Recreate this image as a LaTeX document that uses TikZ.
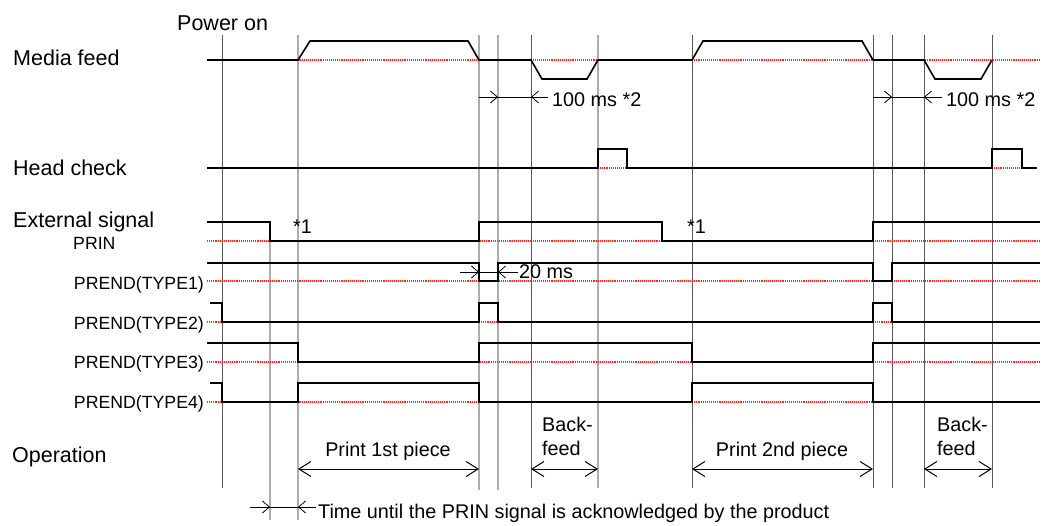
\documentclass[tikz,border=0pt]{standalone}
\usepackage{fontspec}
\setmainfont{Liberation Sans}
\usetikzlibrary{arrows.meta}
\tikzset{
  lbl/.style={inner sep=0pt, font=\fontsize{21.5}{24}\selectfont},
  sml/.style={inner sep=0pt, font=\fontsize{19.8}{24}\selectfont},
  sig/.style={inner sep=0pt, font=\fontsize{17.7}{20}\selectfont},
  sigline/.style={line width=1.6pt, black, line join=miter},
  refline/.style={densely dotted, red!85, line width=1.1pt},
  darkv/.style={black!65, line width=1pt},
  lightv/.style={black!32, line width=2.4pt},
  dimline/.style={line width=0.8pt, black},
  dimtip/.style={line width=0.8pt, -{Straight Barb[length=7pt,width=12pt]}},
  oparrow/.style={line width=1pt, {Straight Barb[length=12pt,width=15pt]}-{Straight Barb[length=12pt,width=15pt]}}
}
\begin{document}
\begin{tikzpicture}[x=1pt,y=-1pt]
\useasboundingbox (0,0) rectangle (1043,525);
% vertical time lines
\draw[darkv]  (222,35) -- (222,488);
\draw[lightv] (270,222) -- (270,520);
\draw[lightv] (298,35) -- (298,520);
\draw[lightv] (479,35) -- (479,490);
\draw[lightv] (498,35) -- (498,490);
\draw[darkv]  (531,35) -- (531,488);
\draw[lightv] (598,35) -- (598,488);
\draw[darkv]  (692,35) -- (692,488);
\draw[darkv]  (873,35) -- (873,488);
\draw[darkv]  (892,35) -- (892,488);
\draw[darkv]  (924,35) -- (924,488);
\draw[darkv]  (992,35) -- (992,488);
% reference (low) levels
\draw[refline] (207,60) -- (1040,60);
\draw[refline] (598,168) -- (627,168);
\draw[refline] (992,168) -- (1022,168);
\draw[refline] (207,241) -- (1040,241);
\draw[refline] (207,281) -- (1040,281);
\draw[refline] (207,322) -- (222,322);
\draw[refline] (479,322) -- (498,322);
\draw[refline] (873,322) -- (892,322);
\draw[refline] (207,362) -- (1040,362);
\draw[refline] (207,402) -- (1040,402);
% waveforms
\draw[sigline] (207,60) -- (298,60) -- (310,41) -- (468,41) -- (479,60) -- (531,60) -- (542,79) -- (587,79) -- (598,60) -- (692,60) -- (703,41) -- (862,41) -- (873,60) -- (924,60) -- (935,79) -- (981,79) -- (992,60);
\draw[sigline] (207,168) -- (598,168) -- (598,149) -- (627,149) -- (627,168) -- (992,168) -- (992,149) -- (1022,149) -- (1022,168) -- (1037,168);
\draw[sigline] (207,222) -- (270,222) -- (270,241) -- (479,241) -- (479,222) -- (662,222) -- (662,241) -- (873,241) -- (873,222) -- (1040,222);
\draw[sigline] (207,263) -- (479,263) -- (479,281) -- (498,281) -- (498,263) -- (873,263) -- (873,281) -- (892,281) -- (892,263) -- (1040,263);
\draw[sigline] (210,303) -- (222,303) -- (222,322) -- (479,322) -- (479,303) -- (498,303) -- (498,322) -- (873,322) -- (873,303) -- (892,303) -- (892,322) -- (1040,322);
\draw[sigline] (207,343) -- (298,343) -- (298,362) -- (479,362) -- (479,343) -- (692,343) -- (692,362) -- (873,362) -- (873,343) -- (1040,343);
\draw[sigline] (210,383) -- (222,383) -- (222,402) -- (298,402) -- (298,383) -- (479,383) -- (479,402) -- (692,402) -- (692,383) -- (873,383) -- (873,402) -- (1040,402);
% labels
\node[lbl, anchor=base west] (pon) at (177,30) {Power on};
\node[lbl, anchor=base west] (mf) at (13,65) {Media feed};
\node[lbl, anchor=base west] (hc) at (13,175) {Head check};
\node[lbl, anchor=base west] (ext) at (13,227) {External signal};
\node[lbl, anchor=base west] (op) at (12,462) {Operation};
\node[sig, anchor=base west] (prin) at (73,249) {PRIN};
\node[sig, anchor=base east] (t1) at (204,289) {PREND(TYPE1)};
\node[sig, anchor=base east] (t2) at (204,329) {PREND(TYPE2)};
\node[sig, anchor=base east] (t3) at (204,368) {PREND(TYPE3)};
\node[sig, anchor=base east] (t4) at (204,408) {PREND(TYPE4)};
\node[sml, anchor=base west] (s1a) at (293,233) {*1};
\node[sml, anchor=base west] (s1b) at (687,233) {*1};
% 100 ms dimensions
\draw[dimline] (479,97) -- (548,97);
\draw[dimtip] (486,97) -- (498,97);
\draw[dimtip] (543,97) -- (531,97);
\node[sml, anchor=base west] (d1) at (552,106) {100 ms *2};
\draw[dimline] (873,97) -- (942,97);
\draw[dimtip] (880,97) -- (892,97);
\draw[dimtip] (937,97) -- (924,97);
\node[sml, anchor=base west] (d2) at (946,106) {100 ms *2};
% 20 ms dimension
\draw[dimline] (460,272) -- (518,272);
\draw[dimtip] (466,272) -- (479,272);
\draw[dimtip] (511,272) -- (498,272);
\node[sml, anchor=base west] (d3) at (519,278) {20 ms};
% bottom dimension
\draw[dimline] (250,507) -- (316,507);
\draw[dimtip] (257,507) -- (270,507);
\draw[dimtip] (311,507) -- (298,507);
\node[sml, anchor=base west] (d4) at (318,518) {Time until the PRIN signal is acknowledged by the product};
% operation arrows
\coordinate (a1) at (298,469); \coordinate (b1) at (479,469);
\coordinate (a2) at (531,469); \coordinate (b2) at (598,469);
\coordinate (a3) at (692,469); \coordinate (b3) at (873,469);
\coordinate (a4) at (924,469); \coordinate (b4) at (992,469);
\draw[oparrow] (a1) -- (b1);
\draw[oparrow] (a2) -- (b2);
\draw[oparrow] (a3) -- (b3);
\draw[oparrow] (a4) -- (b4);
\node[sml, anchor=base] (p1) at (388,456) {Print 1st piece};
\node[sml, anchor=base] (p2) at (782,456) {Print 2nd piece};
\node[sml, anchor=north west, align=left] (bf1) at (542,417) {Back-\\feed};
\node[sml, anchor=north west, align=left] (bf2) at (937,417) {Back-\\feed};
\end{tikzpicture}
\end{document}
